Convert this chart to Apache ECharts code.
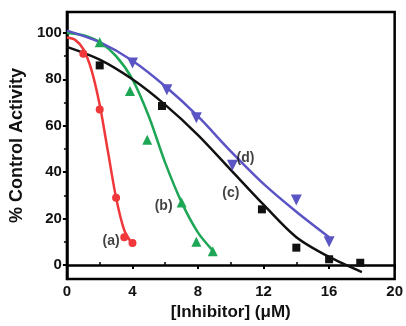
<!DOCTYPE html>
<html>
<head>
<meta charset="utf-8">
<script src="https://cdn.jsdelivr.net/npm/echarts@6/dist/echarts.min.js"></script>
<style>
  html, body { margin: 0; padding: 0; background: #fff; }
  #chart { width: 406px; height: 326px; }
</style>
</head>
<body>
<div id="chart"></div>
<script>
// measured points
const aPoints = [[1, 91], [2, 67], [3, 29], [3.5, 12], [4, 9.5]];
const bPoints = [[2, 96], [3.85, 75], [4.9, 54], [7, 27], [7.9, 10], [8.9, 6]];
const cPoints = [[2, 86], [5.8, 68.5], [11.9, 24], [14, 7.5], [16, 2.5], [17.9, 1]];
const dPoints = [[4, 87], [6.1, 75.5], [7.9, 63.5], [10.1, 43], [14, 28], [16, 10]];

// fitted curves
const aCurve = [[0, 98], [0.5, 97], [1, 93], [1.5, 84], [2, 69], [2.5, 49], [3, 29], [3.5, 15], [4, 9]];
const bCurve = [[0, 100], [1, 99], [2, 96], [3, 90], [4, 80], [5, 64], [6, 44], [7, 27], [8, 14], [9, 5.5]];
const cCurve = [[0, 94], [2, 88.5], [4, 80], [6, 69], [8, 56], [10, 41], [12, 26], [14, 12], [16, 3.5], [18, -3]];
const dCurve = [[0, 101], [2, 96], [4, 88], [6, 77], [8, 64], [10, 49], [12, 35], [14, 23], [16, 12]];

const labelNames = ["(a)", "(b)", "(c)", "(d)"];
const labelPos = [[2.7, 10.3], [5.9, 25.4], [10.0, 31], [10.9, 46]];

const xTicks = [0, 4, 8, 12, 16, 20];
const xMinor = [2, 6, 10, 14, 18];
const yTicks = [0, 20, 40, 60, 80, 100];
const yMinor = [10, 30, 50, 70, 90];

const RED = "#f0373a";
const GREEN = "#1da655";
const BLACK = "#111111";
const BLUE = "#5b54c4";

const FONT = "Liberation Sans, Arial, sans-serif";

function curve(data, color) {
  return {
    type: "line",
    data: data,
    smooth: 0.3,
    showSymbol: false,
    lineStyle: { color: color, width: 2.5 },
    z: 2,
    silent: true,
  };
}

function marks(data, color, symbol, size, rotate) {
  return {
    type: "scatter",
    data: data,
    symbol: symbol,
    symbolSize: size,
    symbolRotate: rotate || 0,
    itemStyle: { color: color, opacity: 1 },
    z: 3,
  };
}

const chart = echarts.init(document.getElementById("chart"), null, { renderer: "canvas" });

chart.setOption({
  animation: false,
  backgroundColor: "#fff",
  grid: {
    left: 66, right: 10, top: 12, bottom: 47,
    show: true, borderColor: "#000", borderWidth: 2.5,
  },
  xAxis: [
    {
      type: "value", min: 0, max: 20,
      axisLine: { show: true, lineStyle: { color: "#000", width: 2.5 } },
      axisTick: { show: true, customValues: xTicks, length: 4, lineStyle: { color: "#000", width: 2 } },
      axisLabel: {
        customValues: xTicks, color: "#111", fontFamily: FONT,
        fontWeight: "bold", fontSize: 15, margin: 5,
      },
      splitLine: { show: false },
      name: "[Inhibitor] (\u03bcM)",
      nameLocation: "middle", nameGap: 22,
      nameTextStyle: { color: "#111", fontFamily: FONT, fontWeight: "bold", fontSize: 17 },
    },
    {
      type: "value", min: 0, max: 20, position: "bottom", gridIndex: 0,
      axisLine: { show: false },
      axisTick: { show: true, inside: true, customValues: xMinor, length: 3, lineStyle: { color: "#000", width: 1.5 } },
      axisLabel: { show: false },
      splitLine: { show: false },
    },
  ],
  yAxis: [
    {
      type: "value", min: -6, max: 109,
      axisLine: { show: true, lineStyle: { color: "#000", width: 2.5 } },
      axisTick: { show: true, customValues: yTicks, length: 4, lineStyle: { color: "#000", width: 2 } },
      axisLabel: {
        customValues: yTicks, color: "#111", fontFamily: FONT,
        fontWeight: "bold", fontSize: 15, margin: 5,
      },
      splitLine: { show: false },
      name: "% Control Activity",
      nameLocation: "middle", nameGap: 38, nameRotate: 90,
      nameTextStyle: { color: "#111", fontFamily: FONT, fontWeight: "bold", fontSize: 18 },
    },
    {
      type: "value", min: -6, max: 109, position: "left",
      axisLine: { show: false },
      axisTick: { show: true, customValues: yMinor, length: 3, lineStyle: { color: "#000", width: 1.5 } },
      axisLabel: { show: false },
      splitLine: { show: false },
    },
  ],
  series: [
    curve(aCurve, RED),
    curve(bCurve, GREEN),
    curve(cCurve, BLACK),
    curve(dCurve, BLUE),
    marks(aPoints, RED, "circle", 8),
    marks(bPoints, GREEN, "triangle", 10),
    marks(cPoints, BLACK, "rect", 8),
    marks(dPoints, BLUE, "triangle", 11, 180),
    {
      type: "scatter",
      data: labelPos.map((p, i) => ({ value: p, name: labelNames[i] })),
      symbolSize: 0,
      silent: true,
      z: 4,
      label: {
        show: true, position: "inside",
        formatter: (p) => p.name,
        color: "#111", fontFamily: FONT, fontWeight: "bold", fontSize: 14,
      },
    },
  ],
});
</script>
</body>
</html>
